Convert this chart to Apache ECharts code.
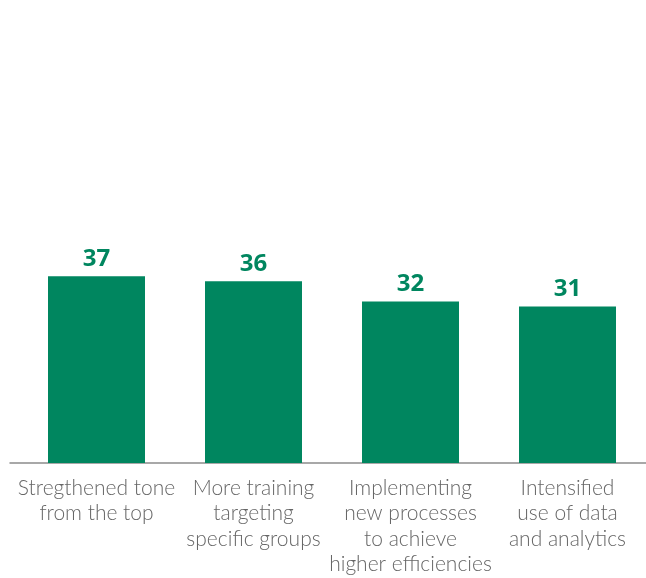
<!DOCTYPE html>
<html>
<head>
<meta charset="utf-8">
<script src="https://cdn.jsdelivr.net/npm/echarts@6/dist/echarts.min.js"></script>
<style>
  html, body { margin: 0; padding: 0; background: #ffffff; }
  #chart { width: 646px; height: 578px; }
</style>
</head>
<body>
<div id="chart"></div>
<script>
// Share of respondents citing each measure (%)
const categories = [
  'Stregthened tone\nfrom the top',
  'More training\ntargeting\nspecific groups',
  'Implementing\nnew processes\nto achieve\nhigher efficiencies',
  'Intensified\nuse of data\nand analytics'
];
const values = [37, 36, 32, 31];

const green = '#00865f';
const chart = echarts.init(document.getElementById('chart'), null, { renderer: 'canvas' });

chart.setOption({
  animation: false,
  backgroundColor: '#ffffff',
  grid: [
    { left: 18, width: 629, top: 160, bottom: 115, containLabel: false },
    { left: 10, right: 0, top: 160, bottom: 115, containLabel: false }
  ],
  xAxis: [
    {
      type: 'category',
      gridIndex: 0,
      data: categories,
      axisLine: { show: false },
      axisTick: { show: false },
      axisLabel: {
        interval: 0,
        margin: 12,
        color: '#666666',
        fontFamily: 'Lato',
        fontWeight: 300,
        fontSize: 21,
        lineHeight: 25.5
      }
    },
    {
      type: 'category',
      gridIndex: 1,
      data: [],
      axisLine: { show: true, lineStyle: { color: '#8c8c8c', width: 1.5 } },
      axisTick: { show: false },
      axisLabel: { show: false }
    }
  ],
  yAxis: [
    { type: 'value', gridIndex: 0, min: 0, max: 60, show: false },
    { type: 'value', gridIndex: 1, min: 0, max: 60, show: false }
  ],
  series: [
    {
      type: 'bar',
      xAxisIndex: 0,
      yAxisIndex: 0,
      data: values,
      barWidth: 97,
      itemStyle: { color: green },
      label: {
        show: true,
        position: 'top',
        distance: 5,
        color: green,
        fontFamily: 'Open Sans',
        fontWeight: 'bold',
        fontSize: 24
      }
    }
  ]
});
</script>
</body>
</html>
